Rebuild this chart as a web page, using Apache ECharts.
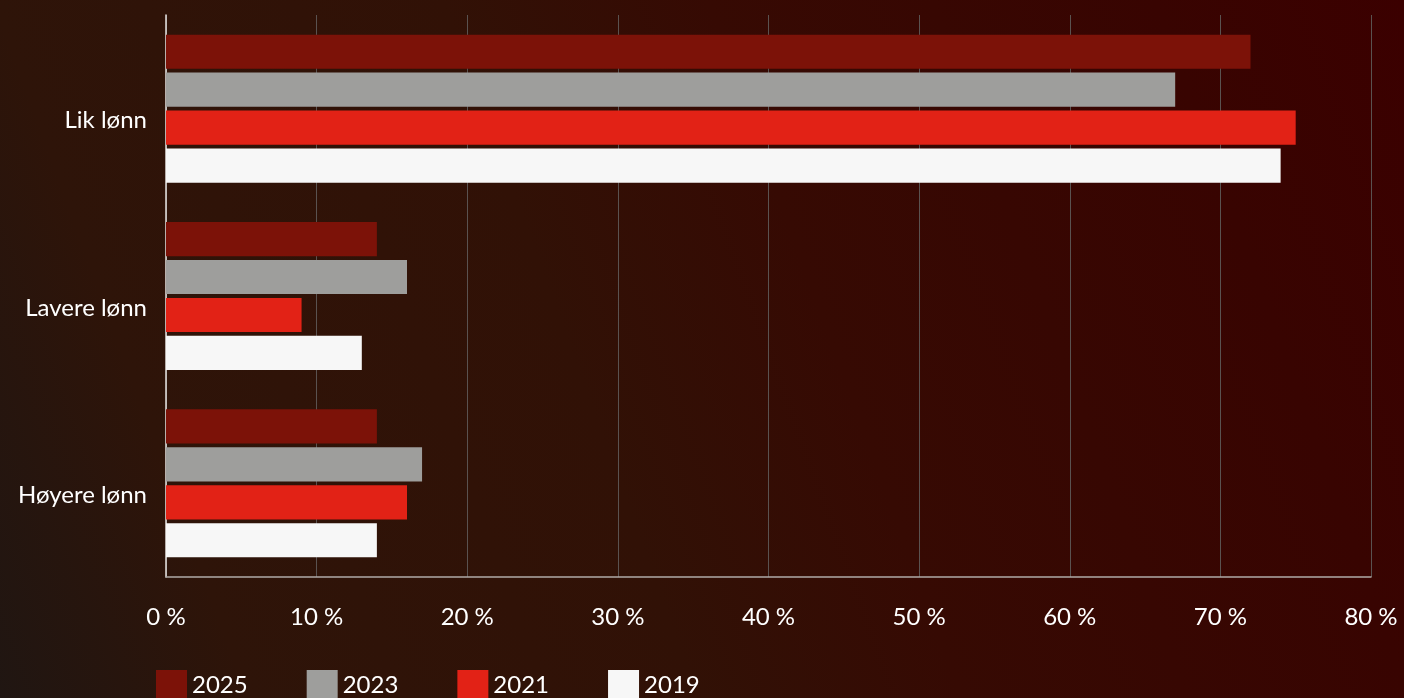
<!DOCTYPE html>
<html>
<head>
<meta charset="utf-8">
<script src="https://cdn.jsdelivr.net/npm/echarts@6/dist/echarts.min.js"></script>
<style>
  html, body { margin: 0; padding: 0; }
  #chart {
    width: 1404px;
    height: 698px;
    background: linear-gradient(70deg, #201612 0%, #2e1409 15%, #311106 42%, #360a03 58%, #380401 85%, #3b0000 100%);
  }
</style>
</head>
<body>
<div id="chart"></div>
<script>
// data
const categories = ['Lik lønn', 'Lavere lønn', 'Høyere lønn'];
const years = ['2025', '2023', '2021', '2019'];
const values2025 = [72, 14, 14];
const values2023 = [67, 16, 17];
const values2021 = [75, 9, 16];
const values2019 = [74, 13, 14];
const colors = ['#7c1208', '#9e9e9c', '#e22216', '#f7f7f7'];

const chart = echarts.init(document.getElementById('chart'));

const seriesData = [values2025, values2023, values2021, values2019];
const seriesList = years.map((y, i) => ({
  type: 'bar',
  name: y,
  data: seriesData[i],
  itemStyle: { color: colors[i] },
  barGap: '11%',
  barCategoryGap: '21%'
}));

const option = {
  backgroundColor: 'transparent',
  animation: false,
  textStyle: {
    fontFamily: 'Lato, "Open Sans", sans-serif'
  },
  grid: {
    left: 166,
    right: 33,
    top: 15,
    bottom: 121,
    containLabel: false
  },
  legend: {
    left: 151,
    top: 665,
    itemWidth: 31,
    itemHeight: 31,
    itemGap: 59,
    icon: 'rect',
    textStyle: {
      color: '#ffffff',
      fontSize: 24,
      padding: [4, 0, 0, 0]
    },
    data: years
  },
  xAxis: {
    type: 'value',
    min: 0,
    max: 80,
    interval: 10,
    axisLine: { show: true, lineStyle: { color: '#b0aaa8', width: 1.5 } },
    axisTick: { show: false },
    splitLine: { show: true, lineStyle: { color: '#5a5250', width: 1 } },
    axisLabel: {
      color: '#ffffff',
      fontSize: 24,
      margin: 28,
      formatter: '{value} %'
    }
  },
  yAxis: {
    type: 'category',
    inverse: true,
    data: categories,
    axisLine: { show: true, lineStyle: { color: '#e8e4e2', width: 1.5 } },
    axisTick: { show: false },
    axisLabel: {
      color: '#ffffff',
      fontSize: 24,
      margin: 19,
      verticalAlign: 'top',
      lineHeight: 24
    }
  },
  series: seriesList
};

chart.setOption(option);
</script>
</body>
</html>
